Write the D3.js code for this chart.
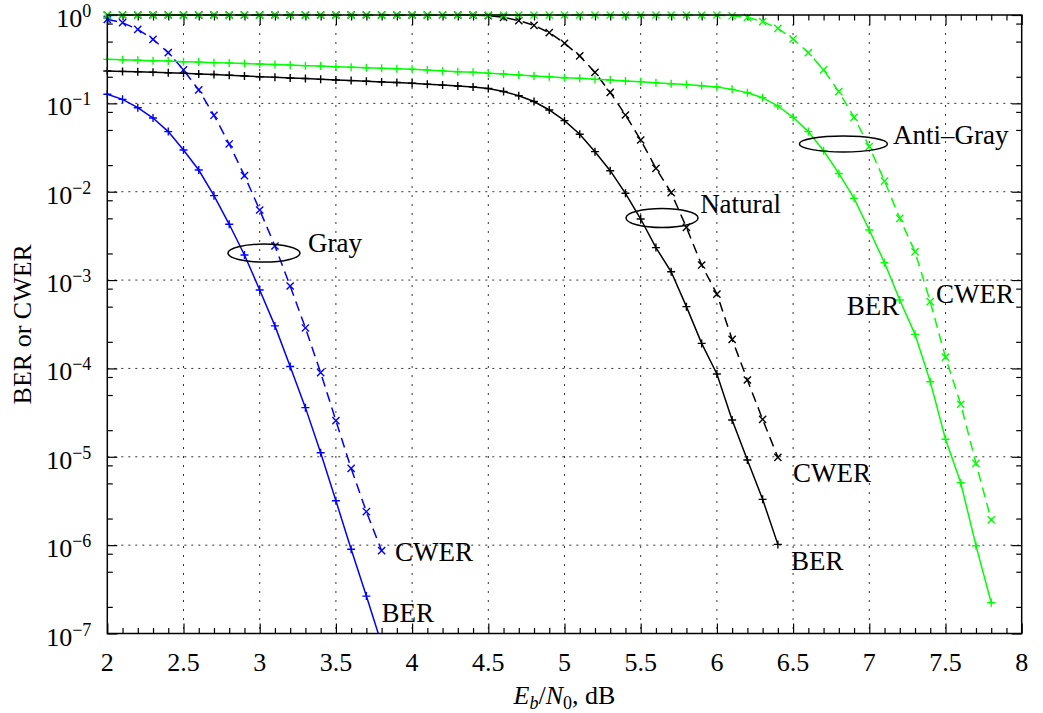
<!DOCTYPE html>
<html>
<head>
<meta charset="utf-8">
<script src="https://cdn.jsdelivr.net/npm/d3@7"></script>
<style>
body { margin: 0; background: #fff; }
text { font-family: "Liberation Serif", "DejaVu Serif", serif; fill: #000; }
</style>
</head>
<body>
<svg id="chart"></svg>
<script>
const canWidth = 1043;
const canHeight = 713;
const plotLeft = 107.3, plotRight = 1021.7, plotTop = 15, plotBottom = 633.5;

// Eb/N0 points (dB)
const ebnoGray = [2.0, 2.1, 2.2, 2.3, 2.4, 2.5, 2.6, 2.7, 2.8, 2.9, 3.0, 3.1, 3.2, 3.3, 3.4, 3.5, 3.6, 3.7, 3.8];
const ebnoNatural = [2.0, 2.1, 2.2, 2.3, 2.4, 2.5, 2.6, 2.7, 2.8, 2.9, 3.0, 3.1, 3.2, 3.3, 3.4, 3.5, 3.6, 3.7, 3.8, 3.9,
  4.0, 4.1, 4.2, 4.3, 4.4, 4.5, 4.6, 4.7, 4.8, 4.9, 5.0, 5.1, 5.2, 5.3, 5.4, 5.5, 5.6, 5.7, 5.8, 5.9,
  6.0, 6.1, 6.2, 6.3, 6.4];
const ebnoAnti = [2.0, 2.1, 2.2, 2.3, 2.4, 2.5, 2.6, 2.7, 2.8, 2.9, 3.0, 3.1, 3.2, 3.3, 3.4, 3.5, 3.6, 3.7, 3.8, 3.9,
  4.0, 4.1, 4.2, 4.3, 4.4, 4.5, 4.6, 4.7, 4.8, 4.9, 5.0, 5.1, 5.2, 5.3, 5.4, 5.5, 5.6, 5.7, 5.8, 5.9,
  6.0, 6.1, 6.2, 6.3, 6.4, 6.5, 6.6, 6.7, 6.8, 6.9, 7.0, 7.1, 7.2, 7.3, 7.4, 7.5, 7.6, 7.7, 7.8];

// Gray mapping
const berGray = [0.127, 0.111, 0.0893, 0.0682, 0.0479, 0.0296, 0.0176, 0.00902, 0.00428, 0.00192,
  7.73e-4, 3.03e-4, 1.05e-4, 3.6e-5, 1.11e-5, 3.18e-6, 8.97e-7, 2.65e-7, 7.6e-8];
const cwerGray = [0.893, 0.818, 0.689, 0.531, 0.375, 0.239, 0.142, 0.0733, 0.0347, 0.0152,
  0.00621, 0.00243, 8.57e-4, 2.87e-4, 8.95e-5, 2.56e-5, 7.41e-6, 2.39e-6, 8.65e-7];

// Natural mapping
const berNatural = [0.232, 0.230, 0.228, 0.225, 0.222, 0.219, 0.215, 0.212, 0.208, 0.204,
  0.200, 0.197, 0.194, 0.191, 0.187, 0.184, 0.181, 0.178, 0.175, 0.172,
  0.169, 0.165, 0.161, 0.157, 0.153, 0.147, 0.136, 0.122, 0.105, 0.0841,
  0.0637, 0.0447, 0.0284, 0.0173, 0.00959, 0.00491, 0.00233, 0.00124, 5.0e-4, 1.92e-4,
  8.65e-5, 2.61e-5, 9.2e-6, 3.3e-6, 1.02e-6];
const cwerNatural = [1, 1, 1, 1, 1, 1, 1, 1, 1, 1,
  1, 1, 1, 1, 1, 1, 1, 1, 1, 1,
  1, 1, 1, 1, 0.998, 0.985, 0.942, 0.863, 0.764, 0.631,
  0.479, 0.344, 0.224, 0.133, 0.0738, 0.0385, 0.0184, 0.00975, 0.00395, 0.00148,
  6.95e-4, 2.13e-4, 7.4e-5, 2.65e-5, 9.86e-6];

// Anti-Gray mapping
const berAnti = [0.315, 0.311, 0.308, 0.304, 0.301, 0.296, 0.293, 0.289, 0.286, 0.282,
  0.279, 0.275, 0.271, 0.267, 0.264, 0.260, 0.256, 0.253, 0.249, 0.246,
  0.243, 0.238, 0.233, 0.228, 0.225, 0.219, 0.215, 0.209, 0.204, 0.200,
  0.195, 0.192, 0.187, 0.184, 0.179, 0.176, 0.171, 0.167, 0.163, 0.158,
  0.153, 0.144, 0.132, 0.116, 0.0933, 0.0695, 0.0479, 0.0291, 0.0161, 0.00841,
  0.00369, 0.00157, 5.96e-4, 2.43e-4, 7.08e-5, 1.58e-5, 5.09e-6, 9.86e-7, 2.23e-7];
const cwerAnti = [1, 1, 1, 1, 1, 1, 1, 1, 1, 1,
  1, 1, 1, 1, 1, 1, 1, 1, 1, 1,
  1, 1, 1, 1, 1, 1, 1, 1, 1, 1,
  1, 1, 1, 1, 1, 1, 1, 1, 1, 1,
  1, 0.98, 0.942, 0.841, 0.706, 0.535, 0.375, 0.239, 0.136, 0.0695,
  0.0324, 0.0132, 0.005, 0.00209, 5.69e-4, 1.34e-4, 3.93e-5, 8.43e-6, 1.93e-6];

const xTicks = [2, 2.5, 3, 3.5, 4, 4.5, 5, 5.5, 6, 6.5, 7, 7.5, 8];
const xTickLabels = ["2", "2.5", "3", "3.5", "4", "4.5", "5", "5.5", "6", "6.5", "7", "7.5", "8"];
const xMinorTicks = [2.1, 2.2, 2.3, 2.4, 2.6, 2.7, 2.8, 2.9, 3.1, 3.2, 3.3, 3.4, 3.6, 3.7, 3.8, 3.9,
  4.1, 4.2, 4.3, 4.4, 4.6, 4.7, 4.8, 4.9, 5.1, 5.2, 5.3, 5.4, 5.6, 5.7, 5.8, 5.9,
  6.1, 6.2, 6.3, 6.4, 6.6, 6.7, 6.8, 6.9, 7.1, 7.2, 7.3, 7.4, 7.6, 7.7, 7.8, 7.9];
const yTicks = [1, 1e-1, 1e-2, 1e-3, 1e-4, 1e-5, 1e-6, 1e-7];
const yTickExponents = ["0", "\u22121", "\u22122", "\u22123", "\u22124", "\u22125", "\u22126", "\u22127"];
const yMinorTicks = [0.8, 0.5, 0.2, 0.08, 0.05, 0.02, 8e-3, 5e-3, 2e-3, 8e-4, 5e-4, 2e-4,
  8e-5, 5e-5, 2e-5, 8e-6, 5e-6, 2e-6, 8e-7, 5e-7, 2e-7];

const series = [
  { x: ebnoGray, y: berGray, color: "#0000ff", dash: null, marker: "plus" },
  { x: ebnoGray, y: cwerGray, color: "#0000ff", dash: "10,6", marker: "cross" },
  { x: ebnoNatural, y: berNatural, color: "#000000", dash: null, marker: "plus" },
  { x: ebnoNatural, y: cwerNatural, color: "#000000", dash: "10,6", marker: "cross" },
  { x: ebnoAnti, y: berAnti, color: "#00ff00", dash: null, marker: "plus" },
  { x: ebnoAnti, y: cwerAnti, color: "#00ff00", dash: "10,6", marker: "cross" }
];

// annotation text and ellipse anchors, in data coordinates
const labels = [
  { text: "Gray", x: 3.317, y: 2.08e-3 },
  { text: "Natural", x: 5.89, y: 5.74e-3 },
  { text: "Anti\u2013Gray", x: 7.156, y: 3.47e-2 },
  { text: "CWER", x: 3.888, y: 6.6e-7 },
  { text: "BER", x: 3.80, y: 1.35e-7 },
  { text: "CWER", x: 6.499, y: 5.25e-6 },
  { text: "BER", x: 6.486, y: 5.24e-7 },
  { text: "BER", x: 6.852, y: 4.03e-4 },
  { text: "CWER", x: 7.438, y: 5.46e-4 }
];
const ellipses = [
  { x: 3.028, y: 2.02e-3, rx: 36, ry: 9 },
  { x: 5.64, y: 5.04e-3, rx: 36, ry: 9.5 },
  { x: 6.83, y: 3.47e-2, rx: 44, ry: 8 }
];

const xs = d3.scaleLinear().domain([2, 8]).range([plotLeft, plotRight]);
const ys = d3.scaleLog().domain([1e-7, 1]).range([plotBottom, plotTop]);

const svg = d3.select('#chart').attr('width', canWidth).attr('height', canHeight);

svg.append('defs').append('clipPath').attr('id', 'plotclip')
  .append('rect')
  .attr('x', plotLeft - 6).attr('y', plotTop - 6)
  .attr('width', plotRight - plotLeft + 12).attr('height', plotBottom - plotTop + 6);

// grid
svg.append('g').selectAll('line')
  .data(xTicks.slice(1, -1))
  .enter().append('line')
  .attr('x1', d => xs(d)).attr('x2', d => xs(d))
  .attr('y1', plotTop).attr('y2', plotBottom)
  .attr('stroke', '#333').attr('stroke-width', 1).attr('stroke-dasharray', '2,7');
svg.append('g').selectAll('line')
  .data(yTicks.slice(1, -1))
  .enter().append('line')
  .attr('x1', plotLeft).attr('x2', plotRight)
  .attr('y1', d => ys(d)).attr('y2', d => ys(d))
  .attr('stroke', '#333').attr('stroke-width', 1).attr('stroke-dasharray', '2,5');

// ticks on all four sides, pointing inward
function tickAxis(axisFn, scale, values, size, tx, ty) {
  const g = svg.append('g').attr('transform', `translate(${tx},${ty})`)
    .call(axisFn(scale).tickValues(values).tickSize(-size).tickFormat(''));
  g.select('.domain').remove();
  g.selectAll('line').attr('stroke', '#000').attr('stroke-width', 1.2);
  return g;
}
tickAxis(d3.axisBottom, xs, xTicks, 10, 0, plotBottom);
tickAxis(d3.axisBottom, xs, xMinorTicks, 5.5, 0, plotBottom);
tickAxis(d3.axisTop, xs, xTicks, 10, 0, plotTop);
tickAxis(d3.axisTop, xs, xMinorTicks, 5.5, 0, plotTop);
tickAxis(d3.axisLeft, ys, yTicks, 10, plotLeft, 0);
tickAxis(d3.axisLeft, ys, yMinorTicks, 5.5, plotLeft, 0);
tickAxis(d3.axisRight, ys, yTicks, 10, plotRight, 0);
tickAxis(d3.axisRight, ys, yMinorTicks, 5.5, plotRight, 0);

// tick labels
svg.append('g').selectAll('text')
  .data(xTicks)
  .enter().append('text')
  .attr('x', d => xs(d)).attr('y', plotBottom + 37.5)
  .attr('text-anchor', 'middle')
  .style('font-size', '26px')
  .text((d, i) => xTickLabels[i]);

const yl = svg.append('g').selectAll('text')
  .data(yTicks)
  .enter().append('text')
  .attr('x', plotLeft - 16).attr('y', d => ys(d) + 12)
  .attr('text-anchor', 'end')
  .style('font-size', '26px');
yl.append('tspan').text('10');
yl.append('tspan').attr('dy', -10).style('font-size', '18px').text((d, i) => yTickExponents[i]);

// curves
const plot = svg.append('g').attr('clip-path', 'url(#plotclip)');
const line = d3.line().x(d => xs(d[0])).y(d => ys(d[1]));
const plusPath = 'M-4,0H4M0,-4V4';
const crossPath = 'M-3.6,-3.6L3.6,3.6M-3.6,3.6L3.6,-3.6';

series.forEach(s => {
  const pts = s.x.map((v, i) => [v, s.y[i]]);
  plot.append('path')
    .attr('d', line(pts))
    .attr('fill', 'none')
    .attr('stroke', s.color)
    .attr('stroke-width', 1.5)
    .attr('stroke-dasharray', s.dash);
  plot.append('g').selectAll('path')
    .data(pts)
    .enter().append('path')
    .attr('transform', d => `translate(${xs(d[0])},${ys(d[1])})`)
    .attr('d', s.marker == 'plus' ? plusPath : crossPath)
    .attr('stroke', s.color)
    .attr('stroke-width', 1.4)
    .attr('fill', 'none');
});

// box
svg.append('rect')
  .attr('x', plotLeft).attr('y', plotTop)
  .attr('width', plotRight - plotLeft).attr('height', plotBottom - plotTop)
  .attr('fill', 'none').attr('stroke', '#000').attr('stroke-width', 1.5);

// ellipses and labels
svg.append('g').selectAll('ellipse')
  .data(ellipses)
  .enter().append('ellipse')
  .attr('cx', d => xs(d.x)).attr('cy', d => ys(d.y))
  .attr('rx', d => d.rx).attr('ry', d => d.ry)
  .attr('fill', 'none').attr('stroke', '#000').attr('stroke-width', 1.5);

svg.append('g').selectAll('text')
  .data(labels)
  .enter().append('text')
  .attr('x', d => xs(d.x)).attr('y', d => ys(d.y))
  .style('font-size', '27px')
  .text(d => d.text);

// axis titles
svg.append('text')
  .attr('transform', `translate(31, ${(plotTop + plotBottom) / 2}) rotate(-90)`)
  .attr('text-anchor', 'middle')
  .style('font-size', '26px')
  .text('BER or CWER');

const xl = svg.append('text')
  .attr('x', (plotLeft + plotRight) / 2).attr('y', 704)
  .attr('text-anchor', 'middle')
  .style('font-size', '26px');
xl.append('tspan').style('font-style', 'italic').text('E');
xl.append('tspan').style('font-style', 'italic').style('font-size', '18px').attr('dy', 5).text('b');
xl.append('tspan').attr('dy', -5).text('/');
xl.append('tspan').style('font-style', 'italic').text('N');
xl.append('tspan').style('font-size', '18px').attr('dy', 5).text('0');
xl.append('tspan').attr('dy', -5).text(', dB');
</script>
</body>
</html>
